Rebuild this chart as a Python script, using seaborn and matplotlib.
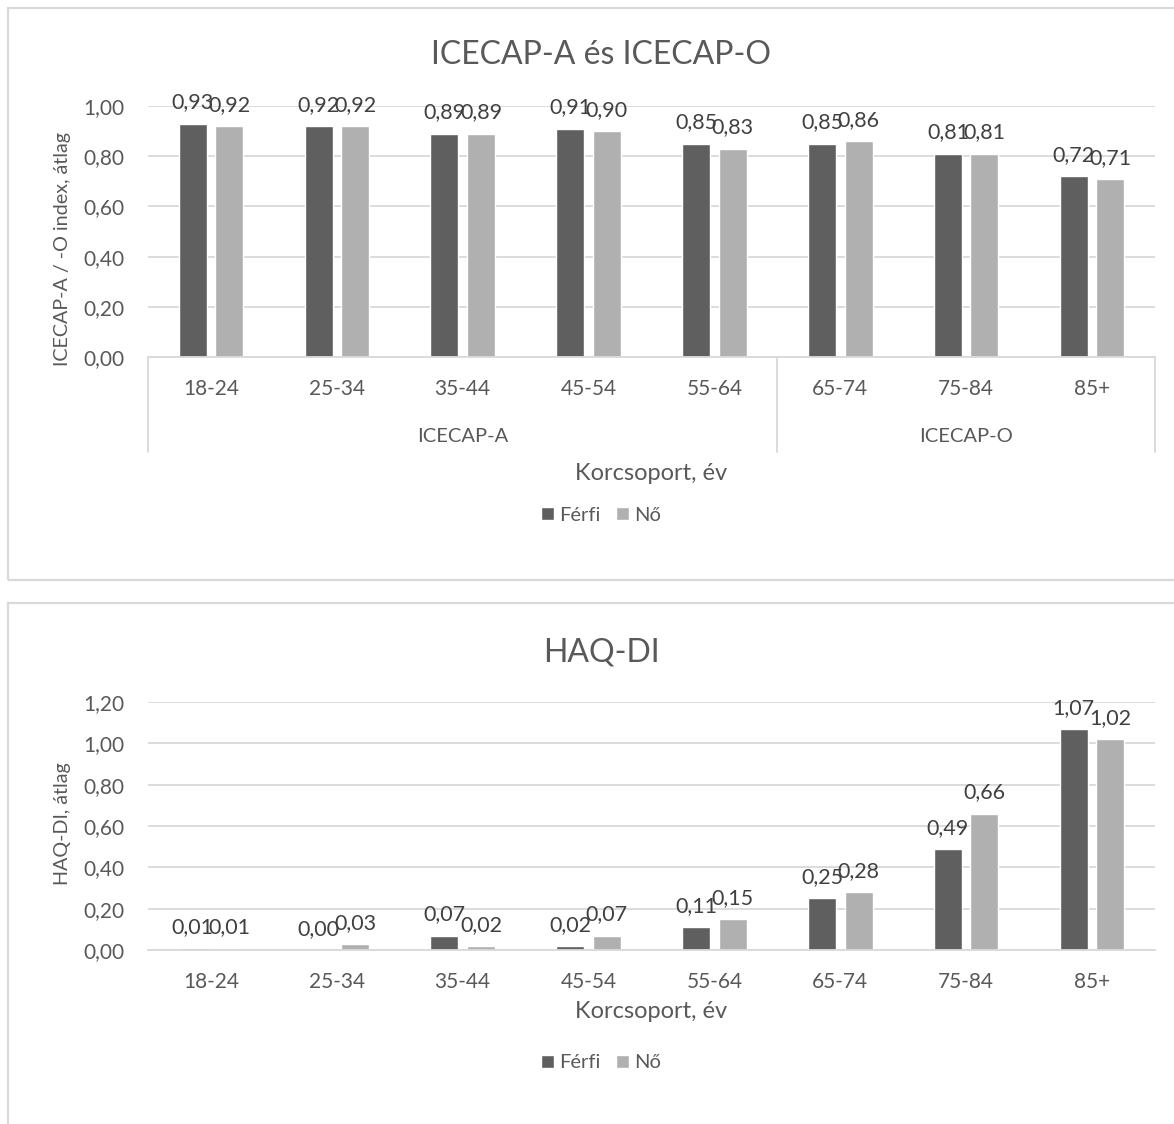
import numpy as np
import pandas as pd
import seaborn as sns
import matplotlib.pyplot as plt
from matplotlib.patches import Rectangle, Patch
from matplotlib.ticker import FuncFormatter
import matplotlib.transforms as mtransforms

age_groups = ["18-24", "25-34", "35-44", "45-54", "55-64", "65-74", "75-84", "85+"]
sexes = ["Férfi", "Nő"]
icecap_groups = ["ICECAP-A", "ICECAP-O"]
icecap_group_sizes = [5, 3]

icecap_ferfi = [0.93, 0.92, 0.89, 0.91, 0.85, 0.85, 0.81, 0.72]
icecap_no = [0.92, 0.92, 0.89, 0.90, 0.83, 0.86, 0.81, 0.71]

haq_ferfi = [0.01, 0.00, 0.07, 0.02, 0.11, 0.25, 0.49, 1.07]
haq_no = [0.01, 0.03, 0.02, 0.07, 0.15, 0.28, 0.66, 1.02]

DARK = "#5f5f5f"
LIGHT = "#b0b0b0"
TEXT = "#595959"
LABEL = "#404040"
GRID = "#d9d9d9"

sns.set_style("white")
plt.rcParams["font.family"] = ["Lato", "DejaVu Sans"]

W, H = 1174, 1124
fig = plt.figure(figsize=(W / 100, H / 100), dpi=100)


def fx(px):
    return px / W


def fy(py):
    return 1 - py / H


def comma(v, pos=None):
    return f"{v:.2f}".replace(".", ",")


def long_df(ferfi, no):
    return pd.DataFrame({
        "Korcsoport": age_groups * 2,
        "Nem": [sexes[0]] * len(age_groups) + [sexes[1]] * len(age_groups),
        "value": list(ferfi) + list(no),
    })


def draw_panel(ax, ferfi, no, ymax, ylabel, ylabel_y):
    df = long_df(ferfi, no)
    sns.barplot(data=df, x="Korcsoport", y="value", hue="Nem", palette=[DARK, LIGHT],
                width=0.58, gap=0.234, ax=ax, legend=False, errorbar=None)
    # data labels (they overlap in the original too)
    for cont, vals in zip(ax.containers, [ferfi, no]):
        ax.bar_label(cont, labels=[comma(v) for v in vals], padding=8,
                     fontsize=15.5, color=LABEL)
    ax.set_xlim(-0.5, len(age_groups) - 0.5)
    ax.set_ylim(0, ymax)
    ax.set_yticks(np.arange(0, ymax + 0.001, 0.2))
    ax.yaxis.set_major_formatter(FuncFormatter(comma))
    ax.yaxis.grid(True, color=GRID, lw=1.3)
    ax.set_axisbelow(True)
    for s in ["top", "right", "left"]:
        ax.spines[s].set_visible(False)
    ax.spines["bottom"].set_color(GRID)
    ax.spines["bottom"].set_linewidth(1.3)
    ax.tick_params(axis="y", length=0, pad=17, labelsize=15, labelcolor=TEXT)
    ax.tick_params(axis="x", length=0, pad=16, labelsize=15, labelcolor=TEXT)
    ax.set_xlabel("")
    ax.set_ylabel(ylabel, fontsize=14.2, color=TEXT)
    ax.yaxis.label.set_va("center")
    ax.yaxis.set_label_coords(-0.085, ylabel_y)


def add_box(x0, y0, x1, y1):
    fig.patches.append(Rectangle((fx(x0), fy(y1)), fx(x1) - fx(x0), fy(y0) - fy(y1),
                                 transform=fig.transFigure, fill=False,
                                 edgecolor=GRID, lw=1.6))


def add_legend(y):
    handles = [Patch(facecolor=DARK, label=sexes[0]), Patch(facecolor=LIGHT, label=sexes[1])]
    fig.legend(handles=handles, loc="center", bbox_to_anchor=(fx(601), fy(y)), ncol=2,
               frameon=False, fontsize=14.5, labelcolor=TEXT, handlelength=0.65,
               handleheight=0.65, handletextpad=0.25, columnspacing=0.8)


# panel frames
add_box(8, 8, 1180, 580)
add_box(8, 603, 1180, 1130)

# top panel: ICECAP
ax1 = fig.add_axes([fx(148), fy(357), fx(1155) - fx(148), fy(106) - fy(357)])
draw_panel(ax1, icecap_ferfi, icecap_no, 1.0, "ICECAP-A / -O index, átlag", 0.43)
fig.text(fx(601), fy(55), "ICECAP-A és ICECAP-O", ha="center", va="center",
         fontsize=23, color=TEXT)

# multi-level category axis
trans = mtransforms.blended_transform_factory(ax1.transData, ax1.transAxes)
bounds = np.concatenate([[0], np.cumsum(icecap_group_sizes)]) - 0.5
for b in bounds:
    ax1.plot([b, b], [0, -95 / 251], color=GRID, lw=1.3, transform=trans, clip_on=False)
for g, lo, hi in zip(icecap_groups, bounds[:-1], bounds[1:]):
    ax1.text((lo + hi) / 2, -79 / 251, g, transform=trans, ha="center", va="center",
             fontsize=14.5, color=TEXT)
fig.text(fx(651), fy(473), "Korcsoport, év", ha="center", va="center", fontsize=17, color=TEXT)
add_legend(515)

# bottom panel: HAQ-DI
ax2 = fig.add_axes([fx(148), fy(950), fx(1155) - fx(148), fy(702) - fy(950)])
draw_panel(ax2, haq_ferfi, haq_no, 1.2, "HAQ-DI, átlag", 0.51)
fig.text(fx(601), fy(652), "HAQ-DI", ha="center", va="center", fontsize=23, color=TEXT)
fig.text(fx(651), fy(1011), "Korcsoport, év", ha="center", va="center", fontsize=17, color=TEXT)
add_legend(1063)

fig.savefig("out.png", dpi=100)
